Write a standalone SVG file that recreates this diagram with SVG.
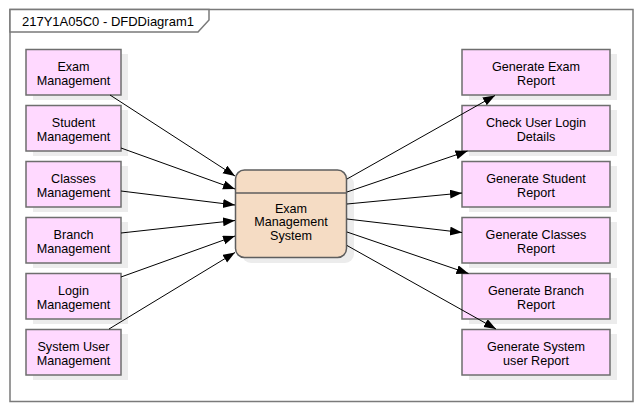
<svg xmlns="http://www.w3.org/2000/svg" width="644" height="412" viewBox="0 0 644 412">
<style>
text{font-family:"Liberation Sans",Arial,sans-serif;font-size:12.6px;fill:#000;text-anchor:middle}
.shadow{fill:#ececec;stroke:none}
.ext{fill:#ffd9ff;stroke:#6e6e6e;stroke-width:1.5}
.proc{fill:#f5dcc4;stroke:#5e5e5e;stroke-width:1.5}
.conn{stroke:#000;stroke-width:1;fill:none;marker-end:url(#arr)}
.frame{fill:#fff;stroke:#7a7a7a;stroke-width:1.5}
</style>
<defs>
<marker id="arr" markerUnits="userSpaceOnUse" markerWidth="13" markerHeight="10" refX="12" refY="4.5" orient="auto">
<path d="M0,0 L12,4.5 L0,9 z" fill="#000"/>
</marker>
</defs>
<rect width="644" height="412" fill="#fff"/>
<g id="frame">
<rect class="frame" x="10" y="9.5" width="623" height="392"/>
<path class="frame" d="M10,9.5 H209 V20 L198,32 H10 Z"/>
<text x="22" y="26" style="text-anchor:start;font-size:13px">217Y1A05C0 - DFDDiagram1</text>
</g>
<g id="left-nodes">
<g id="n-exam-mgmt"><rect class="shadow" x="33" y="54" width="95" height="46"/><rect class="ext" x="26" y="49.5" width="95" height="45.5"/><text x="73.5" y="70.5">Exam</text><text x="73.5" y="84.5">Management</text></g>
<g id="n-student-mgmt"><rect class="shadow" x="33" y="110" width="95" height="46"/><rect class="ext" x="26" y="105.5" width="95" height="45.5"/><text x="73.5" y="126.5">Student</text><text x="73.5" y="140.5">Management</text></g>
<g id="n-classes-mgmt"><rect class="shadow" x="33" y="166" width="95" height="46"/><rect class="ext" x="26" y="161.5" width="95" height="45.5"/><text x="73.5" y="182.5">Classes</text><text x="73.5" y="196.5">Management</text></g>
<g id="n-branch-mgmt"><rect class="shadow" x="33" y="222" width="95" height="46"/><rect class="ext" x="26" y="217.5" width="95" height="45.5"/><text x="73.5" y="238.5">Branch</text><text x="73.5" y="252.5">Management</text></g>
<g id="n-login-mgmt"><rect class="shadow" x="33" y="278" width="95" height="46"/><rect class="ext" x="26" y="273.5" width="95" height="45.5"/><text x="73.5" y="294.5">Login</text><text x="73.5" y="308.5">Management</text></g>
<g id="n-sysuser-mgmt"><rect class="shadow" x="33" y="334" width="95" height="46"/><rect class="ext" x="26" y="329.5" width="95" height="45.5"/><text x="73.5" y="350.5">System User</text><text x="73.5" y="364.5">Management</text></g>
</g>
<g id="n-system">
<rect class="shadow" x="242" y="175" width="112" height="88" rx="9"/>
<rect class="proc" x="235.5" y="170" width="111" height="87.5" rx="9"/>
<line x1="235.5" y1="193" x2="346.5" y2="193" stroke="#5e5e5e" stroke-width="1.5"/>
<text x="291" y="212.5">Exam</text><text x="291" y="226">Management</text><text x="291" y="239.5">System</text>
</g>
<g id="right-nodes">
<g id="n-gen-exam"><rect class="shadow" x="469" y="54" width="148" height="46"/><rect class="ext" x="462" y="49.5" width="148" height="45.5"/><text x="536" y="70.5">Generate Exam</text><text x="536" y="84.5">Report</text></g>
<g id="n-check-login"><rect class="shadow" x="469" y="110" width="148" height="46"/><rect class="ext" x="462" y="105.5" width="148" height="45.5"/><text x="536" y="126.5">Check User Login</text><text x="536" y="140.5">Details</text></g>
<g id="n-gen-student"><rect class="shadow" x="469" y="166" width="148" height="46"/><rect class="ext" x="462" y="161.5" width="148" height="45.5"/><text x="536" y="182.5">Generate Student</text><text x="536" y="196.5">Report</text></g>
<g id="n-gen-classes"><rect class="shadow" x="469" y="222" width="148" height="46"/><rect class="ext" x="462" y="217.5" width="148" height="45.5"/><text x="536" y="238.5">Generate Classes</text><text x="536" y="252.5">Report</text></g>
<g id="n-gen-branch"><rect class="shadow" x="469" y="278" width="148" height="46"/><rect class="ext" x="462" y="273.5" width="148" height="45.5"/><text x="536" y="294.5">Generate Branch</text><text x="536" y="308.5">Report</text></g>
<g id="n-gen-sysuser"><rect class="shadow" x="469" y="334" width="148" height="46"/><rect class="ext" x="462" y="329.5" width="148" height="45.5"/><text x="536" y="350.5">Generate System</text><text x="536" y="364.5">user Report</text></g>
</g>
<g id="connectors">
<line class="conn" x1="110" y1="95" x2="235" y2="176"/>
<line class="conn" x1="121" y1="148" x2="235" y2="189"/>
<line class="conn" x1="121" y1="191" x2="235" y2="205"/>
<line class="conn" x1="121" y1="233" x2="235" y2="220.5"/>
<line class="conn" x1="121" y1="277" x2="235" y2="236"/>
<line class="conn" x1="109" y1="329" x2="235" y2="252.5"/>
<line class="conn" x1="347" y1="179" x2="495" y2="95.5"/>
<line class="conn" x1="347" y1="192" x2="467.5" y2="151"/>
<line class="conn" x1="347" y1="204" x2="462" y2="193"/>
<line class="conn" x1="347" y1="219" x2="462" y2="232.5"/>
<line class="conn" x1="347" y1="232" x2="468.5" y2="273.5"/>
<line class="conn" x1="347" y1="245.5" x2="496" y2="329"/>
</g>
</svg>
